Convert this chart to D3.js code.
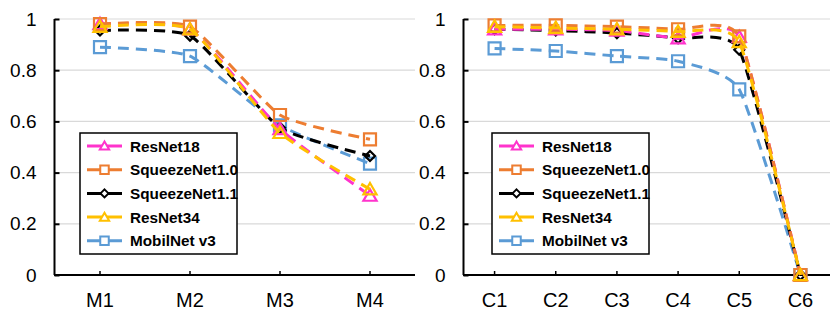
<!DOCTYPE html>
<html><head><meta charset="utf-8">
<script src="https://cdn.jsdelivr.net/npm/d3@7"></script>
<style>html,body{margin:0;padding:0;background:#fff;}svg{display:block;}</style>
</head><body>
<svg id="chart" width="830" height="312"></svg>
<script>
const seriesNames = ["ResNet18","SqueezeNet1.0","SqueezeNet1.1","ResNet34","MobilNet v3"];
const seriesColors = ["#FF33CC","#ED7D31","#000000","#FFC000","#5B9BD5"];
const seriesMarkers = ["triangle","square","diamond","triangle","square"];

const catsM = ["M1","M2","M3","M4"];
const resnet18M = [0.98, 0.96, 0.57, 0.31];
const squeeze10M = [0.98, 0.97, 0.625, 0.53];
const squeeze11M = [0.955, 0.935, 0.575, 0.465];
const resnet34M = [0.97, 0.96, 0.555, 0.335];
const mobilM = [0.89, 0.855, 0.585, 0.435];

const catsC = ["C1","C2","C3","C4","C5","C6"];
const resnet18C = [0.96, 0.96, 0.955, 0.925, 0.93, 0];
const squeeze10C = [0.975, 0.975, 0.97, 0.96, 0.932, 0];
const squeeze11C = [0.96, 0.955, 0.945, 0.925, 0.88, 0];
const resnet34C = [0.97, 0.965, 0.96, 0.95, 0.91, 0];
const mobilC = [0.885, 0.875, 0.855, 0.835, 0.725, 0];

const yTicks = [0, 0.2, 0.4, 0.6, 0.8, 1];
const drawOrder = [4, 2, 0, 1, 3];

const svg = d3.select("#chart");
const FONT = "Liberation Sans, Arial, sans-serif";

function markerPath(type, s) {
  const h = s / 2;
  if (type === "square") return `M${-h},${-h}H${h}V${h}H${-h}Z`;
  if (type === "diamond") return `M0,${-h}L${h},0L0,${h}L${-h},0Z`;
  return `M0,${-h * 1.05}L${h * 1.1},${h * 0.85}L${-h * 1.1},${h * 0.85}Z`;
}

function panel(cats, data, x0, x1, legendX) {
  const top = 19, bottom = 275;
  const x = d3.scaleBand().domain(cats).range([x0, x1]).paddingInner(0).paddingOuter(0);
  const y = d3.scaleLinear().domain([0, 1]).range([bottom, top]);
  const g = svg.append("g");
  const cx = c => x(c) + x.bandwidth() / 2;

  // gridlines
  g.append("g").selectAll("line").data(yTicks.filter(t => t > 0)).join("line")
    .attr("x1", x0).attr("x2", x1).attr("y1", d => y(d)).attr("y2", d => y(d))
    .attr("stroke", "#d9d9d9").attr("stroke-width", 1.2);

  // y axis
  const ya = g.append("g").attr("transform", `translate(${x0 - 0.5},0)`)
    .call(d3.axisLeft(y).tickValues(yTicks).tickFormat(d3.format("~g")).tickSize(-5).tickPadding(18));
  ya.select(".domain").attr("stroke", "#000").attr("stroke-width", 2).attr("d", `M0,${top}V${bottom}`);
  ya.selectAll(".tick line").attr("stroke", "#000").attr("stroke-width", 2);
  ya.selectAll(".tick text").attr("font-family", FONT).attr("font-size", 19).attr("fill", "#000");

  // x axis
  const xa = g.append("g").attr("transform", `translate(0,${bottom})`)
    .call(d3.axisBottom(x).tickSize(-4).tickPadding(17.5));
  xa.select(".domain").attr("stroke", "#000").attr("stroke-width", 2).attr("d", `M${x0 - 1},0H${x1}`);
  xa.selectAll(".tick line").attr("stroke", "#000").attr("stroke-width", 1.5);
  xa.selectAll(".tick text").attr("font-family", FONT).attr("font-size", 20).attr("fill", "#000");

  const line = d3.line().x((d, i) => cx(cats[i])).y(d => y(d)).curve(d3.curveCardinal.tension(0.5));

  drawOrder.forEach(si => {
    const vals = data[si];
    g.append("path").attr("d", line(vals)).attr("fill", "none")
      .attr("stroke", seriesColors[si]).attr("stroke-width", 3)
      .attr("stroke-dasharray", "11,7");
    g.append("g").selectAll("path").data(vals).join("path")
      .attr("transform", (d, i) => `translate(${cx(cats[i])},${y(d)})`)
      .attr("d", markerPath(seriesMarkers[si], seriesMarkers[si] === "diamond" ? 10 : 12))
      .attr("fill", "none").attr("stroke", seriesColors[si]).attr("stroke-width", 2.2);
  });

  // legend
  const lg = g.append("g").attr("transform", `translate(${legendX},133)`);
  lg.append("rect").attr("x", 0).attr("y", 0).attr("width", 157).attr("height", 121)
    .attr("fill", "#fff").attr("stroke", "#000").attr("stroke-width", 1.5);
  seriesNames.forEach((name, i) => {
    const ry = 13 + i * 23.7;
    const row = lg.append("g").attr("transform", `translate(0,${ry})`);
    row.append("line").attr("x1", 7).attr("x2", 42).attr("y1", 0).attr("y2", 0)
      .attr("stroke", seriesColors[i]).attr("stroke-width", 3);
    row.append("path").attr("transform", "translate(24.5,0)")
      .attr("d", markerPath(seriesMarkers[i], seriesMarkers[i] === "diamond" ? 8 : 8.5))
      .attr("fill", "#fff").attr("stroke", seriesColors[i]).attr("stroke-width", 2);
    row.append("text").attr("x", 50).attr("y", 0).attr("dy", "0.36em")
      .attr("font-family", FONT).attr("font-weight", "bold").attr("font-size", 15.3)
      .attr("fill", "#000").text(name);
  });
}

panel(catsM, [resnet18M, squeeze10M, squeeze11M, resnet34M, mobilM], 55, 415, 80);
panel(catsC, [resnet18C, squeeze10C, squeeze11C, resnet34C, mobilC], 464, 831, 492);
</script>
</body></html>
